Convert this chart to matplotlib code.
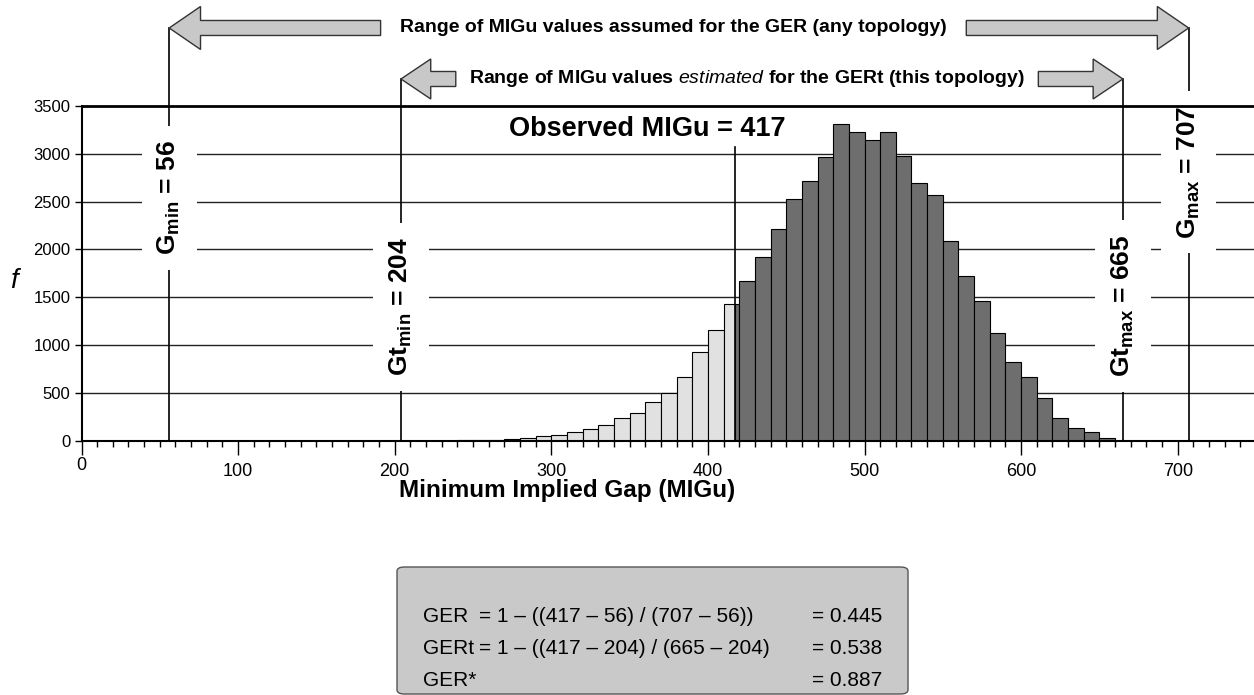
import matplotlib
matplotlib.use('Agg')
import matplotlib.pyplot as plt
from matplotlib.patches import Polygon, FancyBboxPatch
from matplotlib.transforms import ScaledTranslation
import numpy as np

plt.rcParams['font.family'] = ['Liberation Sans', 'DejaVu Sans']
plt.rcParams['mathtext.fontset'] = 'custom'
plt.rcParams['mathtext.rm'] = 'Liberation Sans'
plt.rcParams['mathtext.it'] = 'Liberation Sans:italic'
plt.rcParams['mathtext.bf'] = 'Liberation Sans:bold'

# histogram of MIGu values (bin left edges, width 10)
bin_left = [240, 250, 260, 270, 280, 290, 300, 310, 320, 330, 340, 350, 360, 370,
            380, 390, 400, 410, 420, 430, 440, 450, 460, 470, 480, 490, 500, 510,
            520, 530, 540, 550, 560, 570, 580, 590, 600, 610, 620, 630, 640, 650]
freq = [5, 8, 12, 20, 30, 45, 57, 90, 126, 160, 234, 287, 402, 503,
        664, 926, 1159, 1428, 1665, 1925, 2214, 2528, 2712, 2967, 3313, 3232, 3149, 3229,
        2981, 2695, 2570, 2091, 1725, 1463, 1125, 821, 664, 444, 240, 136, 94, 28]
bin_w = 10

observed = 417
g_min, g_max = 56, 707
gt_min, gt_max = 204, 665

yticks = [0, 500, 1000, 1500, 2000, 2500, 3000, 3500]
xticks = [0, 100, 200, 300, 400, 500, 600, 700]

ger_rows = [('GER', '= 1 \u2013 ((417 \u2013 56) / (707 \u2013 56))', '= 0.445'),
            ('GERt', '= 1 \u2013 ((417 \u2013 204) / (665 \u2013 204)', '= 0.538'),
            ('GER*', '', '= 0.887')]

light = '#e1e1e1'
dark = '#6e6e6e'

fig = plt.figure(figsize=(12.54, 6.95), dpi=100)
ax = fig.add_axes([0.065, 0.3659, 0.9366, 0.4816])
ax.set_xlim(0, 750)
ax.set_ylim(0, 3500)

# grid lines
for yv in yticks[1:-1]:
    ax.axhline(yv, color='#222222', lw=1.0, zorder=0.5)

# bars, split at the observed value
for left, h in zip(bin_left, freq):
    right = left + bin_w
    if right <= observed:
        ax.bar(left, h, width=bin_w, align='edge', color=light, edgecolor='black', lw=0.8, zorder=2)
    elif left >= observed:
        ax.bar(left, h, width=bin_w, align='edge', color=dark, edgecolor='black', lw=0.8, zorder=2)
    else:
        ax.bar(left, h, width=observed - left, align='edge', color=light, edgecolor='black', lw=0.8, zorder=2)
        ax.bar(observed, h, width=right - observed, align='edge', color=dark, edgecolor='black', lw=0.8, zorder=2)

# data y per pixel helpers
px_per_unit = 334.7 / 3500.0
def ypx(p):
    return (440.7 - p) / px_per_unit

y_arr1 = ypx(28)
y_arr2 = ypx(79)

# vertical reference lines
ax.plot([observed, observed], [0, ypx(147)], color='black', lw=1.2, zorder=3)
for xv, ytop in [(g_min, y_arr1), (g_max, y_arr1), (gt_min, y_arr2), (gt_max, y_arr2)]:
    ax.plot([xv, xv], [0, ytop], color='black', lw=1.2, zorder=3, clip_on=False)

# rotated labels
lab_kw = dict(rotation=90, ha='center', va='center', fontsize=19, fontweight='bold', zorder=5,
              bbox=dict(boxstyle='square,pad=0.55', fc='white', ec='none'))
ax.text(g_min, ypx(198), r'G$_{\mathbf{min}}$ = 56', **lab_kw)
ax.text(gt_min, ypx(307), r'Gt$_{\mathbf{min}}$ = 204', **lab_kw)
ax.text(gt_max, ypx(306), r'Gt$_{\mathbf{max}}$ = 665', **lab_kw)
ax.text(g_max, ypx(172), r'G$_{\mathbf{max}}$ = 707', **lab_kw)

ax.text(361, ypx(129), 'Observed MIGu = 417', ha='center', va='center', fontsize=19.5, fontweight='bold', zorder=5)

# block arrows above the plot
def block_arrow(xt, xe, yc, hl, hh, sh):
    d = 1 if xe > xt else -1
    pts = [(xt, yc), (xt + d * hl, yc + hh), (xt + d * hl, yc + sh), (xe, yc + sh),
           (xe, yc - sh), (xt + d * hl, yc - sh), (xt + d * hl, yc - hh)]
    ax.add_patch(Polygon(pts, closed=True, fc='#c8c8c8', ec='#333333', lw=1.0, clip_on=False, zorder=4))

hh1, sh1 = 21.5 / px_per_unit, 7.5 / px_per_unit
block_arrow(g_min, 191, y_arr1, 20, hh1, sh1)
block_arrow(g_max, 565, y_arr1, 20, hh1, sh1)
hh2, sh2 = 20 / px_per_unit, 7.5 / px_per_unit
block_arrow(gt_min, 239, y_arr2, 19, hh2, sh2)
block_arrow(gt_max, 611, y_arr2, 19, hh2, sh2)

ax.text(378, y_arr1, 'Range of MIGu values assumed for the GER (any topology)', ha='center', va='center',
        fontsize=14, fontweight='bold', clip_on=False)
ax.text(425, y_arr2, r'Range of MIGu values $\mathit{estimated}$ for the GERt (this topology)', ha='center',
        va='center', fontsize=14, fontweight='bold', clip_on=False)

# axes styling
ax.spines['right'].set_visible(False)
ax.spines['top'].set_linewidth(2.0)
ax.spines['top'].set_zorder(6)
ax.spines['left'].set_linewidth(1.5)
ax.spines['bottom'].set_linewidth(1.5)
ax.set_yticks(yticks)
ax.set_xticks(xticks)
ax.set_xticks(np.arange(0, 751, 10), minor=True)
ax.tick_params(axis='y', direction='out', length=5, width=1, labelsize=12, pad=3)
ax.tick_params(axis='x', which='major', direction='out', length=10, width=1, labelsize=13, pad=6)
ax.tick_params(axis='x', which='minor', direction='out', length=4, width=1)
xl = ax.get_xticklabels()
xl[0].set_transform(xl[0].get_transform() + ScaledTranslation(0, 6 / 100, fig.dpi_scale_trans))

fig.text(567.5 / 1254, 1 - 490 / 695, 'Minimum Implied Gap (MIGu)', ha='center', va='center',
         fontsize=17.5, fontweight='bold')
fig.text(14 / 1254, 1 - 281 / 695, 'f', ha='center', va='center', fontsize=20, style='italic')

# summary box
box = FancyBboxPatch((397 / 1254, 1 / 695), 511 / 1254, 127 / 695, boxstyle='round,pad=0,rounding_size=0.006',
                     transform=fig.transFigure, fc='#c9c9c9', ec='#555555', lw=1.0)
fig.patches.append(box)
for i, (name, eq, val) in enumerate(ger_rows):
    yy = 1 - (617 + 31.7 * i) / 695
    fig.text(423 / 1254, yy, name, ha='left', va='center', fontsize=15)
    fig.text(479 / 1254, yy, eq, ha='left', va='center', fontsize=15)
    fig.text(812 / 1254, yy, val, ha='left', va='center', fontsize=15)

fig.savefig('out.png', dpi=100)
